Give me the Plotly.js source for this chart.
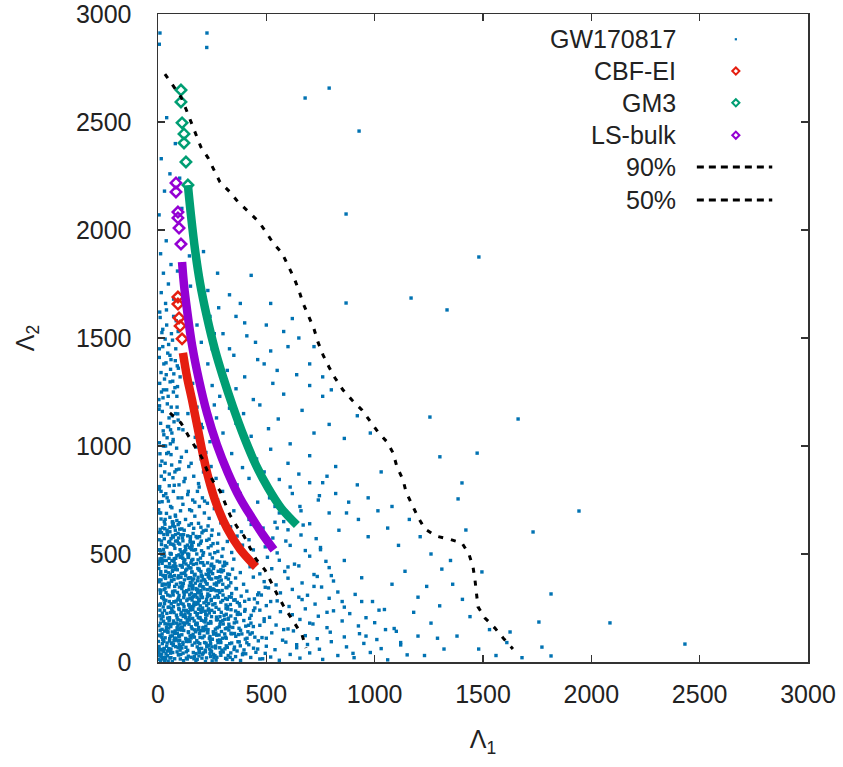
<!DOCTYPE html>
<html>
<head>
<meta charset="utf-8">
<script src="https://cdn.plot.ly/plotly-3.0.1.min.js"></script>
<style>html,body{margin:0;padding:0;background:#fff;}#chart{width:843px;height:767px;}</style>
</head>
<body>
<div id="chart"></div>
<script>
// GW170817 posterior samples [Lambda1, Lambda2]
const gw170817Samples = [
[12,8],[35,22],[58,41],[77,15],[96,33],[118,6],[140,27],[163,44],[181,12],[205,36],[224,19],[247,48],[268,9],[290,31],[312,17],[336,42],[358,25],[381,7],[405,38],[428,21],[452,45],[8,30],[47,4],[88,47],[131,18],[176,39],[219,2],[263,29],[301,46],[344,11],[390,34],[470,14],[495,40],[520,23],[560,8],[610,35],[655,18],[700,42],[760,12],[830,30],[905,20],[980,44],[1060,10],[1150,33],
[5,72],[27,95],[50,58],[71,83],[93,66],[115,91],[137,54],[158,78],[179,99],[201,63],[222,87],[244,52],[266,74],[288,97],[309,61],[331,85],[353,69],[375,93],[397,56],[419,80],[441,64],[463,98],[18,55],[62,88],[104,71],[148,96],[190,53],[233,77],[277,90],[320,68],[365,51],[410,89],[500,73],[540,57],[590,92],[640,66],[690,81],[745,59],[800,94],[870,70],[950,86],[1030,62],[1120,79],
[10,121],[31,143],[54,108],[76,132],[97,117],[119,146],[141,103],[162,128],[184,149],[206,112],[228,137],[249,105],[271,124],[293,141],[315,110],[337,133],[359,119],[381,147],[403,106],[425,129],[447,115],[22,104],[66,139],[110,126],[153,111],[196,145],[240,118],[284,102],[327,148],[372,127],[415,140],[480,113],[525,135],[575,101],[625,144],[680,122],[735,108],[795,138],[860,116],[930,131],[1010,104],[1100,142],[1200,120],
[4,168],[26,189],[49,157],[70,178],[92,196],[113,161],[135,183],[157,154],[178,172],[200,193],[221,166],[243,187],[265,152],[286,175],[308,198],[330,163],[352,181],[374,156],[396,192],[418,170],[15,199],[58,173],[101,150],[145,194],[188,160],[232,179],[275,196],[319,158],[363,185],[440,164],[490,188],[545,171],[600,153],[655,197],[715,176],[780,159],[850,190],[925,167],[1000,182],[1090,155],
[9,214],[30,238],[53,205],[74,229],[96,247],[117,211],[139,233],[160,202],[182,224],[204,245],[226,217],[248,239],[270,208],[292,230],[314,249],[336,213],[358,236],[380,221],[402,243],[20,226],[63,248],[106,219],[150,241],[193,206],[237,227],[281,244],[325,203],[370,229],[430,216],[470,240],[515,207],[565,233],[620,219],[680,246],[740,212],[810,237],[885,224],[960,205],[1045,243],
[6,263],[28,287],[51,254],[73,279],[95,296],[116,268],[138,291],[160,257],[181,275],[203,298],[225,262],[246,284],[268,253],[290,277],[312,294],[334,266],[356,288],[378,259],[400,281],[17,299],[61,270],[103,285],[147,252],[190,290],[234,271],[278,299],[321,256],[366,276],[445,292],[500,261],[550,283],[605,257],[665,289],[725,268],[790,295],[860,254],[940,280],
[11,318],[33,342],[56,306],[78,329],[99,347],[121,312],[143,336],[165,303],[187,325],[208,349],[230,315],[252,338],[274,308],[296,331],[318,344],[340,317],[362,339],[384,305],[24,301],[67,323],[110,340],[154,319],[198,307],[241,345],[285,322],[329,302],[410,328],[460,311],[510,343],[565,320],[620,336],[690,309],[755,347],[830,324],[910,313],
[7,371],[29,394],[52,358],[74,382],[95,399],[117,364],[139,387],[161,353],[183,376],[204,397],[226,361],[248,384],[270,356],[292,379],[314,391],[336,367],[358,389],[19,355],[62,377],[105,392],[149,368],[192,352],[236,395],[280,370],[325,384],[395,360],[440,393],[490,372],[545,357],[600,388],[665,366],[735,396],[810,375],
[13,418],[35,442],[57,406],[80,429],[102,447],[124,413],[146,436],[168,402],[190,425],[212,448],[234,410],[256,433],[278,420],[300,444],[322,407],[344,430],[23,401],[68,424],[112,439],[156,416],[200,403],[245,446],[290,427],[380,414],[425,441],[470,408],[525,432],[585,419],[650,445],[720,405],[790,437],
[8,466],[30,490],[53,455],[75,478],[97,496],[119,461],[141,484],[163,452],[185,473],[207,494],[229,459],[251,482],[273,467],[295,489],[317,456],[18,497],[64,470],[108,487],[152,458],[196,481],[240,499],[285,463],[350,476],[400,492],[455,460],[505,485],[560,471],[630,453],[700,490],[775,466],
[12,514],[34,538],[56,503],[78,526],[100,546],[122,509],[144,531],[166,518],[188,542],[210,506],[232,529],[254,548],[276,512],[25,521],[69,545],[113,502],[157,536],[201,515],[245,538],[300,524],[340,507],[390,541],[440,519],[495,533],[550,505],[610,540],[680,516],[750,530],
[5,566],[27,590],[49,555],[71,578],[93,596],[115,561],[137,584],[159,553],[181,575],[203,598],[225,563],[247,586],[16,599],[60,571],[104,589],[148,556],[192,580],[236,569],[280,592],[320,558],[365,583],[420,566],[475,597],[530,574],[590,560],[660,588],[730,571],
[10,614],[32,638],[55,603],[77,626],[99,645],[121,610],[143,633],[165,619],[187,642],[209,607],[231,630],[21,621],[66,648],[110,616],[154,640],[198,624],[250,611],[290,644],[335,626],[385,603],[430,637],[485,620],[540,647],[600,612],[670,634],
[3,45],[19,130],[41,225],[14,380],[38,470],[60,20],[83,110],[45,310],[88,205],[66,420],[105,35],[125,180],[92,290],[132,330],[82,480],[110,65],[148,120],[172,230],[128,400],[155,470],[185,90],[210,160],[175,340],[195,260],[215,380],[238,60],[220,195],[255,140],[262,300],[242,420],[34,15],[57,120],[24,255],[48,365],[71,445],[98,80],[118,240],[85,360],[142,265],[166,15],[191,45],[213,120],[233,240],[198,330],[258,20],[275,100],[286,210],[299,360],[308,130],[315,75],[2,95],[11,180],[27,60],[39,160],[52,280],[13,330],[36,420],[59,500],[81,560],[102,520],[44,590],[70,640],[7,520],[26,470],[63,395],[91,150],[107,410],[131,95],[174,140],[159,300],[186,205],[206,460],[224,290],[244,180],[267,390],[128,520],[150,580],[173,520],[200,560],[222,610],
[4,12],[17,37],[29,63],[42,88],[55,19],[68,44],[81,71],[94,97],[6,124],[19,151],[32,177],[45,203],[58,229],[71,256],[84,282],[97,308],[9,334],[22,361],[35,387],[48,413],[61,439],[74,466],[87,492],[3,518],[16,544],[29,571],[42,597],[55,623],[68,649],[81,675],[94,34],[7,59],[20,85],[33,112],[46,138],[59,164],[72,190],[85,217],[98,243],[11,269],[24,295],[37,322],[50,348],[63,374],[76,400],[89,427],[2,453],[15,479],[28,505],[41,532],[54,558],[67,584],[80,610],[93,636],[14,662],[39,688],[64,714],[89,560],[3,600],[51,480],[77,350],[23,210],[99,120],[44,51],[66,2],[88,158],[12,406],[36,285],[58,546],[83,442],[6,690],[31,617],[95,574],[47,253],[69,327],[21,472],[74,99],[92,389],[10,147],[53,196],
[103,14],[116,41],[129,68],[142,95],[155,122],[168,149],[181,176],[194,203],[107,230],[120,257],[133,284],[146,311],[159,338],[172,365],[185,392],[198,419],[111,446],[124,473],[137,500],[150,527],[163,554],[176,581],[189,28],[102,55],[115,82],[128,109],[141,136],[154,163],[167,190],[180,217],[193,244],[106,271],[119,298],[132,325],[145,352],[158,379],[171,406],[184,433],[197,460],[110,487],[123,514],[136,541],[149,568],[162,595],[175,7],[188,62],[101,176],[114,353],[127,236],[140,445],[153,22],[166,268],[179,500],[192,132],[105,392],[118,590],[131,47],[144,205],[157,417],[170,88],[183,320],[196,550],[109,160],[122,380],[135,14],[148,295],[161,475],[174,175],[187,245],[199,375],
[203,18],[219,47],[235,76],[251,105],[267,134],[283,163],[299,192],[315,221],[206,250],[222,279],[238,308],[254,337],[270,366],[286,395],[302,424],[318,13],[209,42],[225,71],[241,100],[257,129],[273,158],[289,187],[305,216],[321,245],[212,274],[228,303],[244,332],[260,361],[276,390],[292,419],[308,448],[324,30],[215,90],[231,150],[247,210],[263,270],[279,330],[295,55],[311,115],[327,175],[218,235],[234,395],[250,5],[266,65],[282,125],[298,285],[314,345],[330,405],[210,145],[240,40],[270,195],[300,310],[230,425],[260,230],[290,90],[320,290],
[333,22],[351,58],[369,94],[387,130],[405,166],[423,202],[441,238],[459,274],[477,310],[495,346],[339,130],[357,200],[375,270],[393,40],[411,110],[429,180],[447,250],[465,320],[483,15],[338,300],[360,340],[380,75],[420,290],[460,60],[490,200],[345,160],[400,235],[435,135],[470,170],[500,110],
[14,26],[27,49],[40,73],[53,97],[66,121],[79,144],[92,168],[105,192],[118,216],[131,239],[144,263],[157,287],[170,311],[183,334],[196,358],[209,382],[222,406],[235,429],[248,453],[9,477],
[24,14],[37,38],[50,62],[63,86],[76,110],[89,133],[102,157],[115,181],[128,205],[141,228],[154,252],[167,276],[180,300],[193,323],[206,347],[219,371],[232,395],[245,418],[258,442],[17,466],
[31,5],[44,29],[57,53],[70,77],[83,101],[96,124],[109,148],[122,172],[135,196],[148,219],[161,243],[174,267],[187,291],[200,314],[213,338],[226,362],[239,386],[252,409],[4,433],[19,457],
[250,70],[237,110],[224,150],[211,190],[198,230],[185,270],[172,310],[159,350],[146,390],[133,430],[120,470],[107,510],[94,550],[81,590],[68,630],[55,670],[42,610],[29,650],[16,560],[3,380],
[256,35],[243,85],[230,135],[217,185],[204,235],[191,285],[178,335],[165,385],[152,435],[139,485],[126,535],[113,575],[100,615],[87,655],[74,540],[61,500],[48,440],[35,360],[22,300],[9,240],
[12,58],[25,102],[38,146],[51,190],[64,234],[77,278],[90,322],[103,366],[116,410],[129,454],[142,498],[155,542],[168,26],[181,70],[194,114],[207,158],[220,202],[233,246],[246,290],[259,334],
[272,22],[285,66],[298,110],[311,154],[324,198],[337,242],[350,286],[268,330],[281,374],[294,418],[307,462],[262,506],[275,550],[288,44],[301,176],[314,264],[327,352],[340,88],[353,132],[366,220],
[20,20],[60,60],[100,100],[140,140],[180,180],[220,220],[45,140],[85,180],[125,220],[165,260],[205,300],[30,270],[70,310],[110,350],[150,390],[190,430],[35,400],[75,440],[115,480],[155,520],
[18,115],[43,175],[68,235],[93,265],[118,325],[143,175],[168,115],[193,85],[218,55],[243,25],[28,335],[53,395],[78,455],[103,485],[128,425],[153,365],[178,455],[203,395],[228,335],[253,265],
[6,800],[15,860],[24,1070],[33,920],[42,760],[51,1130],[60,960],[69,1020],[78,880],[87,1230],[96,1080],[5,1170],[16,1250],[27,1380],[38,1330],[49,1470],[60,1400],[71,1250],[82,1450],[93,1530],
[12,690],[33,660],[58,720],[80,680],[104,700],[127,660],[146,705],[170,675],[191,720],[214,690],[236,665],[260,710],[283,680],[5,740],[26,770],[48,745],[71,790],[93,760],[115,730],[137,775],[160,750],[182,790],[205,760],[228,735],[252,780],[275,750],[298,790],
[3,705],[19,742],[36,779],[52,816],[69,853],[85,890],[101,927],[9,964],[25,1001],[42,1038],[58,1075],[74,1112],[91,1149],[7,1186],[23,1223],[40,1260],[56,1297],[73,1334],[89,1371],[14,790],[31,880],[48,970],[64,1060],[81,1150],[97,820],[11,910],[28,1000],[44,1090],[61,1180],[78,1270],[94,1360],[6,1450],[22,1540],[39,1630],[55,1420],[72,1600],[110,760],[125,850],[140,790],[155,700],[170,740],[190,810],[215,745],
[8,812],[29,845],[52,870],[75,818],[97,893],[120,835],[142,905],[165,860],[187,826],[210,880],[18,930],[40,965],[63,912],[86,990],[108,948],[131,975],[153,920],[176,995],[199,940],[221,970],[245,905],[268,850],[292,930],[315,885],[340,965],[365,820],[390,900],[420,850],[455,940],[490,880],[520,985],[560,845],[600,920],[650,870],[700,955],[760,830],[820,905],
[6,1015],[27,1052],[49,1090],[70,1030],[93,1120],[115,1075],[138,1150],[20,1160],[43,1195],[66,1140],[88,1180],[12,1105],[35,1000],[57,1010],[172,1040],[205,1085],[240,1020],[270,1130],[300,1060],[330,1175],[360,1105],[395,1150],[430,1045],[470,1190],[510,1080],[555,1125],[610,1010],[665,1165],[720,1060],[790,1100],[860,1035],[920,1140],[980,1060],
[4,1215],[25,1260],[47,1230],[68,1300],[90,1275],[14,1340],[37,1385],[58,1355],[80,1395],[102,1320],[8,1290],[30,1310],[210,1210],[250,1280],[285,1230],[320,1350],[360,1265],[400,1320],[440,1215],[490,1380],[530,1290],[580,1240],[640,1330],[700,1280],[760,1230],
[6,1410],[22,1460],[45,1430],[67,1490],[18,1525],[40,1560],[62,1520],[84,1580],[10,1595],[33,1495],[250,1450],[300,1520],[350,1420],[400,1570],[450,1480],[520,1440],[580,1530],[620,1590],
[8,1620],[35,1660],[15,1710],[48,1750],[25,1800],[60,1840],[12,1890],[38,1950],[72,1680],[90,1810],[230,1720],[280,1640],[330,1700],[380,1660],[430,1790],[520,1660],[145,1880],[210,1900],[170,1980],
[5,2070],[30,2180],[55,2260],[15,2330],[80,2400],[40,2520],[100,2240],[6,2860],[225,2845],[110,2100],
[868,2074],[1481,1875],[868,1662],[1168,1685],[1334,1630],[1255,1134],[1662,1125],[790,2657],[679,2611],[928,2458],[9,2912],[226,2912],
[1301,950],[1473,967],[1403,829],[1385,755],[1943,699],[1731,602],[1421,611],[1495,417],[1814,315],[2086,181],[2432,83],[1758,185],[1772,69],[1814,28],[1625,139],
[515,760],[560,690],[610,810],[655,720],[700,640],[745,770],[790,690],[835,610],[880,740],[925,660],[970,580],[1015,700],[1060,620],[1110,540],[1160,660],[1210,580],[1260,500],[1310,430],[1360,360],[1405,290],[1440,210],[1380,120],[1320,60],[1260,180],[1200,300],[1140,420],[1080,360],[1020,240],[960,120],[900,40],[850,280],[800,400],[750,520],[700,180],[650,300],[600,440],[550,620],[520,280],[580,150],[640,80],[720,350],[780,230],[860,470],[940,390],[990,280],[1050,150],[1120,90],[1180,230],[1240,350],[1300,260],[1350,470],[1230,30],[1290,110],[1480,60],[1530,150],[1560,30],[1610,90],[1680,20],
[350,700],[380,780],[420,660],[460,740],[500,820],[540,720],[580,650],[620,780],[660,700],[700,830],[740,750],[780,860],[820,780],[870,690],[920,820],[970,760],[1030,880],[1080,720],
[160,1290],[180,1180],[200,1100],[230,1380],[260,1190],[180,1560],[200,1480],[240,1600],[150,1740],[260,1520],[290,1330],[275,1800],[330,1450],[360,1600],[410,1510],[460,1400],[500,1560],[550,1350],[600,1460],[650,1500],[700,1380],[720,1460],[760,1320],[800,1260]
];

// EOS curves: isolated points (top) and dense run
const cbfSparseL1 = [92, 92, 97, 102, 111];
const cbfSparseL2 = [1690, 1657, 1593, 1556, 1496];
const cbfDenseL1  = [115, 134, 157, 185, 208, 235, 268, 318, 378, 452];
const cbfDenseL2  = [1431, 1320, 1213, 1074, 958, 843, 736, 620, 523, 440];

const gm3SparseL1 = [106, 106, 111, 120, 120, 129, 138];
const gm3SparseL2 = [2648, 2593, 2496, 2445, 2403, 2315, 2208];
const gm3DenseL1  = [138, 152, 171, 194, 226, 263, 300, 346, 397, 452, 508, 568, 641];
const gm3DenseL2  = [2208, 2070, 1908, 1755, 1597, 1445, 1320, 1181, 1042, 912, 806, 713, 634];

const lsSparseL1 = [83, 83, 92, 92, 97, 106];
const lsSparseL2 = [2218, 2176, 2083, 2056, 2009, 1935];
const lsDenseL1  = [111, 120, 134, 157, 189, 226, 272, 323, 378, 434, 485, 535];
const lsDenseL2  = [1852, 1746, 1630, 1468, 1306, 1153, 1005, 875, 759, 667, 588, 519];

// credible-region contours
const c90L1 = [32,69,106,129,152,175,198,231,258,286,332,369,420,466,498,531,572,600,628,651,669,697,720,738,762,789,817,854,895,941,978,1015,1057,1085,1103,1131,1145,1172,1200,1232,1283,1343,1403,1435,1454,1463,1472,1477,1509,1555,1597,1638];
const c90L2 = [2722,2671,2616,2560,2500,2445,2384,2334,2278,2222,2176,2130,2083,2037,1991,1940,1894,1838,1778,1718,1662,1597,1542,1482,1421,1366,1315,1259,1213,1167,1116,1065,1019,968,903,843,787,727,671,616,583,569,551,500,440,380,315,255,204,157,106,60];
const c50L1 = [55,106,138,171,203,226,254,286,309,332,365,397,425,452,494,521,549,577,609,632,665,683];
const c50L2 = [1153,1107,1051,995,945,889,838,792,736,681,625,583,528,477,426,370,315,264,213,181,125,65];

const labels = ["GW170817", "CBF-EI", "GM3", "LS-bulk", "90%", "50%"];
const colors = {gw: "#0072b2", cbf: "#e51e10", gm3: "#009e73", ls: "#9400d3", line: "#000000"};
const xTicks = [0, 500, 1000, 1500, 2000, 2500, 3000];
const yTicks = [0, 500, 1000, 1500, 2000, 2500, 3000];

const FONT = "Liberation Sans, Arial, sans-serif";
const FS = 25;

const traces = [];
traces.push({
  type: "scatter", mode: "markers", name: labels[0],
  x: gw170817Samples.map(p => p[0]), y: gw170817Samples.map(p => p[1]),
  marker: {symbol: "square", size: 3.4, color: colors.gw, line: {width: 0}},
  showlegend: false, hoverinfo: "skip"
});
function eos(name, sx, sy, dx, dy, col) {
  traces.push({type: "scatter", mode: "lines", x: dx, y: dy,
    line: {color: col, width: 8.5, shape: "spline", smoothing: 1}, showlegend: false, hoverinfo: "skip"});
  traces.push({type: "scatter", mode: "markers", name: name, x: sx, y: sy,
    marker: {symbol: "diamond-open", size: 8, color: col, line: {width: 2.5, color: col}},
    showlegend: false, hoverinfo: "skip"});
}
eos(labels[1], cbfSparseL1, cbfSparseL2, cbfDenseL1, cbfDenseL2, colors.cbf);
eos(labels[2], gm3SparseL1, gm3SparseL2, gm3DenseL1, gm3DenseL2, colors.gm3);
eos(labels[3], lsSparseL1, lsSparseL2, lsDenseL1, lsDenseL2, colors.ls);
traces.push({type: "scatter", mode: "lines", name: labels[4], x: c90L1, y: c90L2,
  line: {color: colors.line, width: 3, dash: "5px,8px"}, showlegend: false, hoverinfo: "skip"});
traces.push({type: "scatter", mode: "lines", name: labels[5], x: c50L1, y: c50L2,
  line: {color: colors.line, width: 3, dash: "5px,8px"}, showlegend: false, hoverinfo: "skip"});

// custom gnuplot-style key (text right-aligned, sample to the right)
const keyY = [0.961, 0.912, 0.863, 0.813, 0.764, 0.713];
const keyTextX = 0.800, keyMarkX = 0.889, keyLine0 = 0.829, keyLine1 = 0.945;
const annotations = labels.map((t, i) => ({
  text: t, xref: "paper", yref: "paper", x: keyTextX, y: keyY[i],
  xanchor: "right", yanchor: "middle", showarrow: false,
  font: {family: FONT, size: FS, color: "#222"}
}));
const shapes = [];
shapes.push({type: "rect", xref: "paper", yref: "paper",
  x0: keyMarkX - 0.0017, x1: keyMarkX + 0.0017, y0: keyY[0] - 0.0017, y1: keyY[0] + 0.0017,
  fillcolor: colors.gw, line: {width: 0}});
[[colors.cbf, 1], [colors.gm3, 2], [colors.ls, 3]].forEach(([c, i]) => {
  const dx = 0.0055, dy = 0.0055, cx = keyMarkX, cy = keyY[i];
  shapes.push({type: "path", xref: "paper", yref: "paper",
    path: `M ${cx - dx} ${cy} L ${cx} ${cy + dy} L ${cx + dx} ${cy} L ${cx} ${cy - dy} Z`,
    fillcolor: "#ffffff", line: {color: c, width: 2}});
});
[4, 5].forEach(i => {
  shapes.push({type: "line", xref: "paper", yref: "paper", x0: keyLine0, x1: keyLine1, y0: keyY[i], y1: keyY[i],
    line: {color: "#000", width: 3, dash: "7px,5px"}});
});

const axisCommon = {
  showgrid: false, zeroline: false, showline: true, linecolor: "#333", linewidth: 1.5,
  mirror: "ticks", ticks: "inside", ticklen: 7, tickwidth: 1.5, tickcolor: "#333",
  tickfont: {family: FONT, size: FS, color: "#222"}, automargin: false,
  ticklabeloverflow: "allow"
};
const layout = {
  width: 843, height: 767,
  margin: {l: 158, r: 35, t: 14, b: 105},
  paper_bgcolor: "#ffffff", plot_bgcolor: "#ffffff",
  showlegend: false,
  xaxis: Object.assign({}, axisCommon, {
    range: [0, 3000], tickvals: xTicks, ticktext: xTicks.map(String), ticklabelstandoff: 9,
    title: {text: "Λ<sub>1</sub>", font: {family: FONT, size: FS, color: "#222"}, standoff: 24}
  }),
  yaxis: Object.assign({}, axisCommon, {
    range: [0, 3000], tickvals: yTicks, ticktext: yTicks.map(String), ticklabelstandoff: 20,
    title: {text: "Λ<sub>2</sub>", font: {family: FONT, size: FS, color: "#222"}, standoff: 34}
  }),
  annotations: annotations, shapes: shapes
};
Plotly.newPlot("chart", traces, layout, {staticPlot: true, displayModeBar: false});
</script>
</body>
</html>
